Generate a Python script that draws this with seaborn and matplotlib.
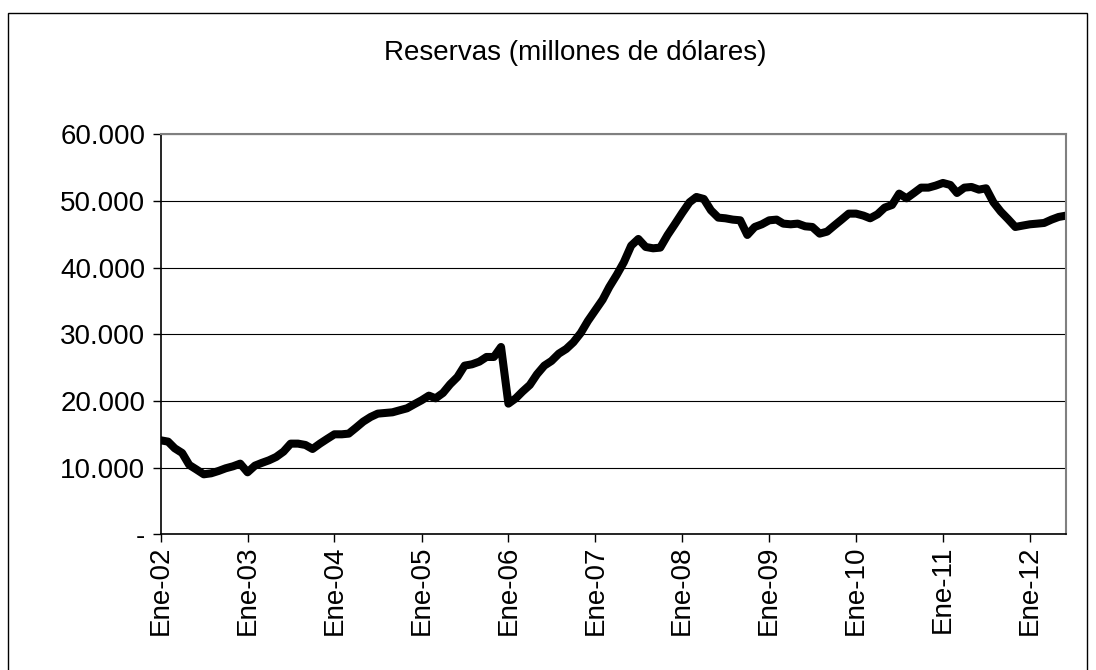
import matplotlib
matplotlib.use("Agg")
import matplotlib.pyplot as plt
import matplotlib.patches as mpatches
import pandas as pd
import seaborn as sns

# Reservas mensuales (millones de USD), ene-2002 a jun-2012
reservas = [
    14100, 13900, 12900, 12200, 10400, 9700, 9000, 9150, 9500, 9900, 10200, 10600,   # 2002
    9300, 10300, 10700, 11100, 11600, 12400, 13600, 13600, 13400, 12800, 13600, 14300,  # 2003
    15000, 15000, 15100, 16000, 16900, 17600, 18100, 18200, 18300, 18600, 18900, 19500,  # 2004
    20100, 20800, 20400, 21200, 22500, 23600, 25300, 25500, 25900, 26600, 26600, 28100,  # 2005
    19600, 20400, 21400, 22400, 24000, 25300, 26000, 27100, 27800, 28800, 30200, 32000,  # 2006
    33600, 35200, 37100, 38900, 40800, 43300, 44300, 43100, 42900, 43000, 44900, 46500,  # 2007
    48200, 49800, 50600, 50300, 48600, 47500, 47400, 47200, 47100, 44900, 46100, 46500,  # 2008
    47100, 47200, 46600, 46500, 46600, 46200, 46100, 45100, 45400, 46300, 47200, 48100,  # 2009
    48100, 47800, 47400, 48000, 49000, 49400, 51100, 50400, 51200, 52000, 52000, 52300,  # 2010
    52700, 52400, 51200, 52000, 52100, 51700, 51900, 49800, 48400, 47300, 46100, 46300,  # 2011
    46500, 46600, 46700, 47200, 47600, 47800,                                            # 2012
]
fechas = pd.date_range("2002-01-01", periods=len(reservas), freq="MS")

anios_tick = pd.date_range("2002-01-01", "2012-01-01", freq="YS")
etiquetas_x = [f"Ene-{d:%y}" for d in anios_tick]
valores_y = [0, 10000, 20000, 30000, 40000, 50000, 60000]
etiquetas_y = ["-", "10.000", "20.000", "30.000", "40.000", "50.000", "60.000"]

TITULO = "Reservas (millones de dólares)"

sns.set_style("white")
plt.rcParams.update({
    "font.family": ["Liberation Sans", "DejaVu Sans"],
    "text.color": "black",
    "xtick.color": "black",
    "ytick.color": "black",
    "axes.labelcolor": "black",
})

fig = plt.figure(figsize=(10.96, 6.70), dpi=100)
ax = fig.add_axes([160.7 / 1096, 1 - 534.3 / 670, (1066 - 160.7) / 1096, 400 / 670])

df = pd.DataFrame({"fecha": fechas, "reservas": reservas})
sns.lineplot(data=df, x="fecha", y="reservas", ax=ax, color="black", linewidth=5.8)
ax.lines[0].set_solid_joinstyle("round")

ax.set_xlim(fechas[0], fechas[-1])
ax.set_ylim(0, 60000)
ax.set_yticks(valores_y)
ax.set_yticklabels(etiquetas_y, fontsize=20)
ax.set_xticks(anios_tick)
ax.set_xticklabels(etiquetas_x, rotation=90, fontsize=20)
ax.set_xlabel("")
ax.set_ylabel("")

ax.grid(axis="y", color="black", linewidth=0.8)
ax.grid(axis="x", visible=False)
ax.set_axisbelow(True)

for side in ["left", "bottom"]:
    ax.spines[side].set_color("black")
    ax.spines[side].set_linewidth(1.2)
for side in ["top", "right"]:
    ax.spines[side].set_color("#808080")
    ax.spines[side].set_linewidth(1.5)

ax.tick_params(axis="y", direction="out", length=6, width=1, color="black", pad=5, left=True)
ax.tick_params(axis="x", direction="out", length=6, width=1, color="black", pad=2, bottom=True)

fig.text(575 / 1096, 1 - 53 / 670, TITULO, fontsize=20, ha="center", va="center", color="black")

# marco exterior del gráfico
fig.patches.append(mpatches.Rectangle((8 / 1096, -0.01), (1087 - 8) / 1096, 1 - 13 / 670 + 0.01,
                                      transform=fig.transFigure, fill=False,
                                      edgecolor="black", linewidth=1.0))

fig.savefig("out.png", dpi=100)
plt.close(fig)
